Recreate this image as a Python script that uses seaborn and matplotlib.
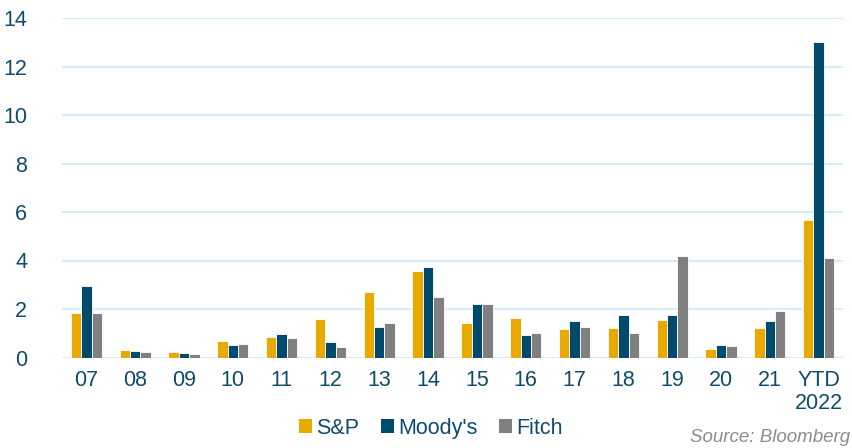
import numpy as np
import pandas as pd
import matplotlib.pyplot as plt
import seaborn as sns
from matplotlib.patches import Patch

years = ['07', '08', '09', '10', '11', '12', '13', '14', '15', '16', '17', '18', '19', '20', '21', 'YTD\n2022']
sp = [1.82, 0.30, 0.22, 0.67, 0.85, 1.57, 2.72, 3.58, 1.42, 1.64, 1.16, 1.21, 1.55, 0.36, 1.21, 5.67]
moodys = [2.94, 0.26, 0.18, 0.50, 0.98, 0.62, 1.25, 3.73, 2.20, 0.94, 1.51, 1.77, 1.77, 0.51, 1.50, 13.0]
fitch = [1.83, 0.22, 0.14, 0.55, 0.80, 0.43, 1.43, 2.50, 2.20, 1.00, 1.25, 1.03, 4.17, 0.47, 1.90, 4.09]

agencies = ['S&P', "Moody's", 'Fitch']
colors = ['#e8a900', '#004b6b', '#808080']
text_col = '#0f4c6b'

df = pd.DataFrame({'year': years * 3,
                   'agency': np.repeat(agencies, len(years)),
                   'value': sp + moodys + fitch})

sns.set_style('white')
plt.rcParams['font.family'] = ['Liberation Sans', 'DejaVu Sans']

fig = plt.figure(figsize=(8.52, 4.48), dpi=100)
ax = fig.add_axes([62 / 852, 1 - 357.5 / 448, 781 / 852, 339.5 / 448])

sns.barplot(data=df, x='year', y='value', hue='agency', hue_order=agencies,
            palette=colors, saturation=1, width=0.64, gap=0.0, ax=ax, legend=False,
            edgecolor='white', linewidth=0.6, zorder=3)

ax.set_ylim(0, 14)
ax.set_xlim(-0.5, len(years) - 0.5)
ax.set_yticks(range(0, 15, 2))
ax.yaxis.grid(True, color='#c8ebf8', linewidth=1.2, zorder=0)
ax.set_axisbelow(True)
for s in ax.spines.values():
    s.set_visible(False)
ax.set_xlabel('')
ax.set_ylabel('')
ax.tick_params(axis='both', length=0, labelsize=15.5, labelcolor=text_col)
ax.tick_params(axis='y', pad=25)
ax.tick_params(axis='x', pad=9)
ax.set_xticks(range(len(years)))
ax.set_xticklabels(years, linespacing=1.15)

handles = [Patch(facecolor=c, edgecolor='none') for c in colors]
fig.legend(handles, agencies, loc='center', bbox_to_anchor=(431 / 852, 1 - 428 / 448),
           ncol=3, frameon=False, fontsize=15.5, labelcolor=text_col,
           handlelength=0.6, handleheight=0.6, handletextpad=0.2, columnspacing=1.0)

fig.text(850 / 852, 1 - 437 / 448, 'Source: Bloomberg', ha='right', va='center',
         fontsize=13.5, style='italic', color='#8c8c8c')

fig.savefig('out.png', dpi=100)
